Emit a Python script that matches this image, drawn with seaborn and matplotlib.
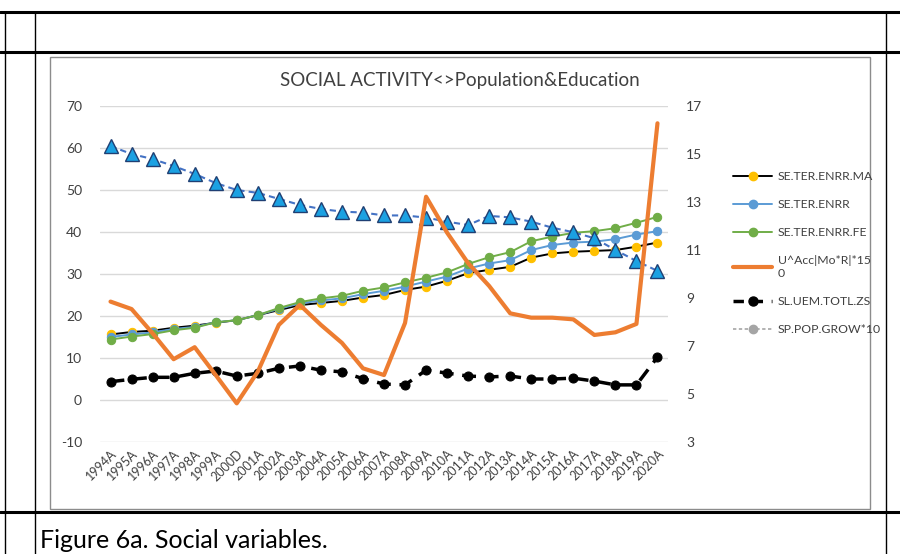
import numpy as np
import pandas as pd
import matplotlib
matplotlib.use("Agg")
import matplotlib.pyplot as plt
from matplotlib.lines import Line2D
from matplotlib.patches import Rectangle
import seaborn as sns

years = ["1994A", "1995A", "1996A", "1997A", "1998A", "1999A", "2000D", "2001A", "2002A",
         "2003A", "2004A", "2005A", "2006A", "2007A", "2008A", "2009A", "2010A", "2011A",
         "2012A", "2013A", "2014A", "2015A", "2016A", "2017A", "2018A", "2019A", "2020A"]

enrr_ma = [15.6, 16.2, 16.5, 17.2, 17.7, 18.4, 19.0, 20.2, 21.4, 22.6, 23.1, 23.6, 24.4, 25.0,
           26.2, 27.0, 28.4, 30.2, 31.0, 31.7, 33.9, 34.9, 35.3, 35.5, 35.7, 36.5, 37.5]
enrr = [15.0, 15.6, 16.1, 16.9, 17.4, 18.5, 19.0, 20.2, 21.7, 23.0, 23.7, 24.2, 25.2, 26.0,
        27.0, 28.2, 29.4, 31.3, 32.5, 33.3, 35.7, 36.9, 37.5, 37.7, 38.3, 39.4, 40.2]
enrr_fe = [14.4, 15.1, 15.7, 16.6, 17.2, 18.5, 19.0, 20.2, 21.9, 23.3, 24.2, 24.8, 26.0, 26.8,
           28.0, 29.1, 30.4, 32.4, 34.0, 35.2, 37.8, 38.9, 39.8, 40.2, 40.9, 42.2, 43.6]
uacc = [8.85, 8.54, 7.53, 6.45, 6.95, 5.79, 4.61, 5.93, 7.88, 8.71, 7.88, 7.13, 6.07, 5.79,
        7.96, 13.22, 11.72, 10.45, 9.5, 8.36, 8.18, 8.18, 8.11, 7.46, 7.57, 7.92, 16.28]
unemp = [4.36, 4.93, 5.4, 5.4, 6.36, 6.9, 5.7, 6.36, 7.55, 8.1, 7.1, 6.7, 5.07, 3.8,
         3.6, 7.1, 6.4, 5.7, 5.5, 5.7, 5.0, 5.0, 5.2, 4.5, 3.6, 3.6, 10.2]
popgrow = [15.33, 15.0, 14.79, 14.5, 14.17, 13.79, 13.5, 13.38, 13.13, 12.88, 12.71, 12.6,
           12.56, 12.44, 12.44, 12.35, 12.18, 12.04, 12.42, 12.36, 12.18, 11.93, 11.74, 11.49,
           11.0, 10.54, 10.13]

labels = ["SE.TER.ENRR.MA", "SE.TER.ENRR", "SE.TER.ENRR.FE", "U^Acc|Mo*R|*15\n0",
          "SL.UEM.TOTL.ZS", "SP.POP.GROW*10"]
left_ticks = [-10, 0, 10, 20, 30, 40, 50, 60, 70]
right_ticks = [3, 5, 7, 9, 11, 13, 15, 17]

df = pd.DataFrame({"idx": np.arange(len(years)), "ma": enrr_ma, "enrr": enrr, "fe": enrr_fe,
                   "uacc": uacc, "unemp": unemp, "pop": popgrow})

sns.set_style("white")
FONT = ["Lato", "DejaVu Sans"]
plt.rcParams["font.family"] = FONT
plt.rcParams["axes.unicode_minus"] = False

fig = plt.figure(figsize=(9, 5.54), dpi=100)
W, H = 900, 554
ax = fig.add_axes([100 / W, 1 - 442 / H, 568 / W, 336 / H])
ax2 = ax.twinx()

YEL, BLU, GRN, ORG = "#FFC000", "#5B9BD5", "#70AD47", "#ED7D31"

sns.lineplot(data=df, x="idx", y="ma", ax=ax, color="black", lw=1.4, marker="o",
             markersize=6, markerfacecolor=YEL, markeredgecolor=YEL, zorder=3)
sns.lineplot(data=df, x="idx", y="enrr", ax=ax, color=BLU, lw=1.4, marker="o",
             markersize=6, markerfacecolor=BLU, markeredgecolor=BLU, zorder=4)
sns.lineplot(data=df, x="idx", y="fe", ax=ax, color=GRN, lw=1.4, marker="o",
             markersize=6, markerfacecolor=GRN, markeredgecolor=GRN, zorder=5)
sns.lineplot(data=df, x="idx", y="unemp", ax=ax, color="black", lw=2.5, marker="o",
             markersize=6.5, markerfacecolor="black", markeredgecolor="black", zorder=6,
             dashes=False, linestyle=(0, (4, 2.5)))

sns.lineplot(data=df, x="idx", y="pop", ax=ax2, color="#4472C4", lw=1.5, marker="^",
             markersize=9.5, markerfacecolor="#1BA1E2", markeredgecolor="#1F3F73",
             markeredgewidth=1.0, dashes=False, linestyle=(0, (3, 2)), zorder=3)
sns.lineplot(data=df, x="idx", y="uacc", ax=ax2, color=ORG, lw=3.0, zorder=4)

ax.set_xlim(-0.5, len(years) - 0.5)
ax.set_ylim(-10, 70)
ax2.set_ylim(3, 17)
ax.set_yticks(left_ticks)
ax2.set_yticks(right_ticks)
ax.set_xticks(np.arange(len(years)))
ax.set_xticklabels(years, rotation=45, ha="right", rotation_mode="anchor",
                   fontsize=9, color="#404040")
ax.tick_params(axis="x", length=0, pad=4)
ax.tick_params(axis="y", length=0, pad=13, labelsize=10, labelcolor="#404040")
ax2.tick_params(axis="y", length=0, pad=13, labelsize=10, labelcolor="#404040")
ax.grid(axis="y", color="#D9D9D9", lw=1.0)
ax.set_axisbelow(True)
for a in (ax, ax2):
    for s in a.spines.values():
        s.set_visible(False)
    a.set_xlabel("")
    a.set_ylabel("")
    a.patch.set_visible(False)

fig.text(460 / W, 1 - 80 / H, "SOCIAL ACTIVITY<>Population&Education", ha="center",
         va="center", fontsize=13.5, color="#404040")

handles = [
    Line2D([], [], color="black", lw=1.4, marker="o", markersize=6, markerfacecolor=YEL,
           markeredgecolor=YEL),
    Line2D([], [], color=BLU, lw=1.4, marker="o", markersize=6, markerfacecolor=BLU,
           markeredgecolor=BLU),
    Line2D([], [], color=GRN, lw=1.4, marker="o", markersize=6, markerfacecolor=GRN,
           markeredgecolor=GRN),
    Line2D([], [], color=ORG, lw=3.0),
    Line2D([], [], color="black", lw=2.5, marker="o", markersize=6.5, markerfacecolor="black",
           linestyle=(0, (3, 2.5))),
    Line2D([], [], color="#A5A5A5", lw=1.2, marker="o", markersize=6, markerfacecolor="#A5A5A5",
           markeredgecolor="#A5A5A5", linestyle=(0, (2, 1.5))),
]
leg = fig.legend(handles, labels, loc="upper left", bbox_to_anchor=(722 / W, 1 - 160 / H),
                 frameon=False, fontsize=8.8, handlelength=3.2, labelspacing=1.4,
                 handletextpad=0.45, labelcolor="#404040")

# document table frame
fig.add_artist(Rectangle((50 / W, 1 - 509 / H), 820 / W, 452 / H, transform=fig.transFigure,
                         fill=False, edgecolor="#8C8C8C", lw=1.0))
for y in (12, 52, 512):
    fig.add_artist(Line2D([0, 1], [1 - y / H, 1 - y / H], transform=fig.transFigure,
                          color="black", lw=2.2))
for x in (5, 35, 886):
    fig.add_artist(Line2D([x / W, x / W], [0, 1 - 12 / H], transform=fig.transFigure,
                          color="black", lw=1.0))
fig.text(40 / W, 1 - 540 / H, "Figure 6a. Social variables.", ha="left", va="center",
         fontsize=18, color="black")

fig.savefig("out.png", dpi=100)
